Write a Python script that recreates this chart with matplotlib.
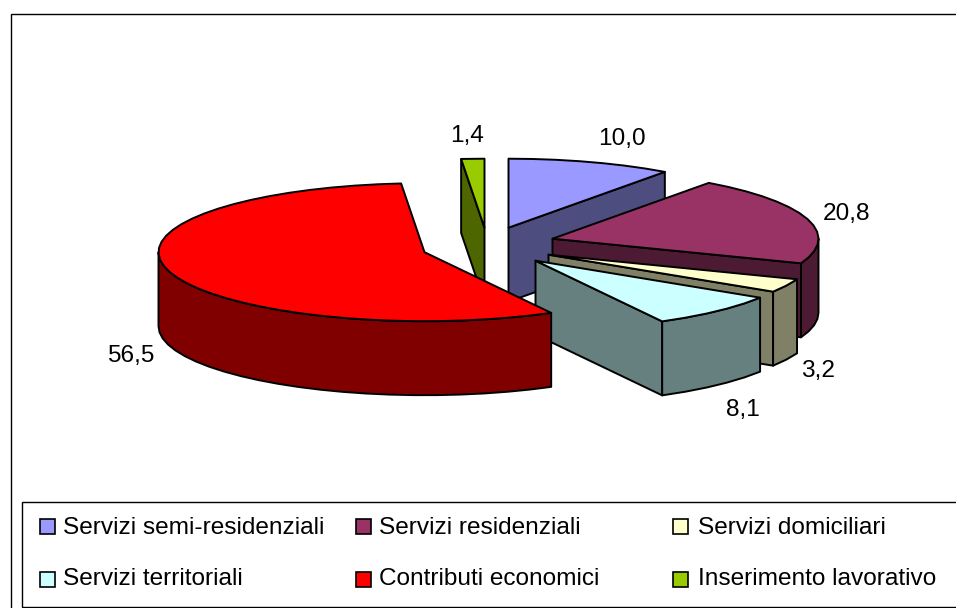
import numpy as np
import matplotlib
matplotlib.use("Agg")
import matplotlib.pyplot as plt
from matplotlib.patches import Polygon, Rectangle

categories = ["Servizi semi-residenziali", "Servizi residenziali", "Servizi domiciliari",
              "Servizi territoriali", "Contributi economici", "Inserimento lavorativo"]
values = [10.0, 20.8, 3.2, 8.1, 56.5, 1.4]
value_labels = ["10,0", "20,8", "3,2", "8,1", "56,5", "1,4"]

# styles and layout (pixel space)
top_colors = ["#9999FF", "#993366", "#FFFFCC", "#CCFFFF", "#FF0000", "#99CC00"]
side_colors = ["#4D4D80", "#4D1A33", "#808066", "#668080", "#800000", "#4D6600"]
centers = [(508.5, 227.7), (552.5, 238.7), (548.5, 254.7), (535.5, 260.7), (424.5, 252.2), (484.5, 227.7)]
label_pos = [(622, 145), (847, 220), (818, 377), (743, 416), (131, 362), (467, 142)]
legend_x = [40, 356, 673]
legend_text_x = [63, 379, 698]
legend_base = [533.5, 585]
legend_box_y = [519, 572]
RX, RY, DEPTH = 266, 69, 74
LW = 1.4
FONT = "Liberation Sans"
FS = 17.6

fig = plt.figure(figsize=(9.56, 6.08), dpi=100)
ax = fig.add_axes([0, 0, 1, 1])
ax.set_xlim(0, 956)
ax.set_ylim(608, 0)
ax.axis("off")

ax.add_patch(Rectangle((11, 13.5), 960, 620, fc="white", ec="black", lw=1.0, zorder=0))
ax.add_patch(Rectangle((22, 501.5), 960, 105.5, fc="white", ec="black", lw=1.0, zorder=1))


def rim(cx, cy, t0, t1):
    n = max(2, int(abs(t1 - t0) / np.radians(5)) + 1)
    t = np.linspace(t0, t1, n)
    return np.column_stack([cx + RX * np.sin(t), cy - RY * np.cos(t)])


def poly(pts, color, z):
    ax.add_patch(Polygon(pts, closed=True, fc=color, ec="black", lw=LW, joinstyle="round", zorder=z))


fractions = np.array(values) / 100.0
starts = np.concatenate([[0], np.cumsum(fractions)[:-1]]) * 2 * np.pi
ends = np.cumsum(fractions) * 2 * np.pi
ends[-1] = 2 * np.pi

draw_order = [5, 0, 1, 2, 3, 4]
for rank, i in enumerate(draw_order):
    cx, cy = centers[i]
    t0, t1 = starts[i], ends[i]
    z = 2 + rank * 0.1
    drop = np.array([0, DEPTH])
    apex = np.array([cx, cy])
    # radial cut faces turned towards the viewer
    for t, visible in ((t0, np.sin(t0) < -1e-6), (t1, np.sin(t1) > 1e-6)):
        if visible:
            p = rim(cx, cy, t, t)[0]
            poly([apex, p, p + drop, apex + drop], side_colors[i], z)
    # outer wall: only the part of the rim facing the viewer
    a, b = max(t0, np.pi / 2), min(t1, 3 * np.pi / 2)
    if b > a:
        edge = rim(cx, cy, a, b)
        poly(np.vstack([edge, edge[::-1] + drop]), side_colors[i], z + 0.01)
    # top face
    poly(np.vstack([[apex], rim(cx, cy, t0, t1)]), top_colors[i], z + 0.02)

for (x, y), s in zip(label_pos, value_labels):
    ax.text(x, y, s, fontsize=FS, family=FONT, ha="center", va="baseline", zorder=5)

for k, name in enumerate(categories):
    col, row = k % 3, k // 3
    ax.add_patch(Rectangle((legend_x[col] + 0.5, legend_box_y[row]), 15, 15,
                           fc=top_colors[k], ec="black", lw=1.2, zorder=5))
    ax.text(legend_text_x[col], legend_base[row], name, fontsize=FS, family=FONT,
            ha="left", va="baseline", zorder=5)

fig.savefig("out.png", dpi=100)
